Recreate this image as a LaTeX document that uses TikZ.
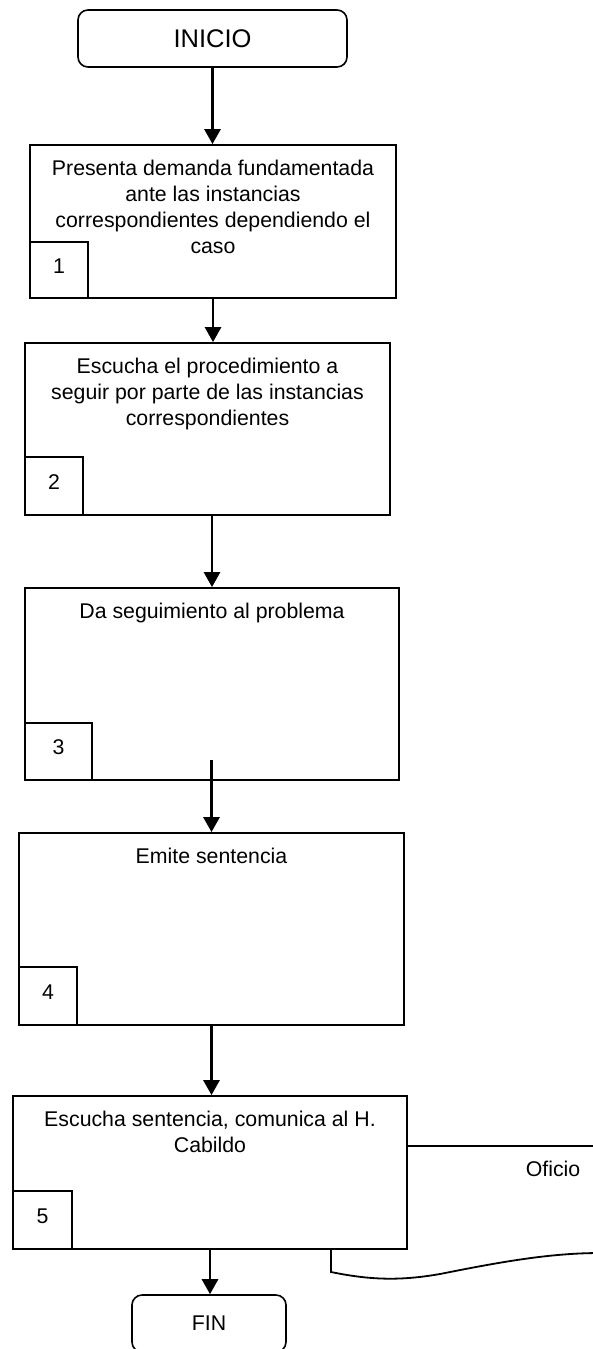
\documentclass[tikz,border=0pt]{standalone}
\usepackage{fontspec}
\setmainfont{Liberation Sans}
\usetikzlibrary{arrows.meta,calc}

\begin{document}
\begin{tikzpicture}[x=1pt, y=-1pt,
  every node/.style={font=\fontsize{21.3}{26}\selectfont},
  stepbox/.style={draw, line width=1.8pt, fill=white, inner sep=0pt},
  termbox/.style={draw, line width=1.6pt, rounded corners=10pt, fill=white, inner sep=0pt},
  numbox/.style={draw, line width=1.8pt, inner sep=0pt, anchor=south west, text depth=8pt},
  steptext/.style={anchor=north, align=center, inner sep=0pt, yshift=-16pt},
  docline/.style={line width=1.8pt},
  flow/.style={line width=2.8pt, -{Triangle[width=16pt,length=15pt]}}]

  \useasboundingbox (0,0) rectangle (592,1349);

  % --- inicio ---
  \node[termbox, minimum width=269pt, minimum height=57pt,
        font=\fontsize{25.5}{30}\selectfont] (inicio) at (212.5,38.5) {INICIO};

  % --- paso 1 ---
  \node[stepbox, minimum width=366pt, minimum height=153pt] (b1) at (213,221.5) {};
  \node[steptext] (t1) at (b1.north) {Presenta demanda fundamentada\\ante las instancias\\correspondientes dependiendo el\\caso};
  \node[numbox, minimum width=58pt, minimum height=56pt] (n1) at (b1.south west) {1};

  % --- paso 2 ---
  \node[stepbox, minimum width=365pt, minimum height=172pt] (b2) at (207.5,429) {};
  \node[steptext] (t2) at (b2.north) {Escucha el procedimiento a\\seguir por parte de las instancias\\correspondientes};
  \node[numbox, minimum width=58pt, minimum height=58pt] (n2) at (b2.south west) {2};

  % --- paso 3 ---
  \node[stepbox, minimum width=374pt, minimum height=192pt] (b3) at (212,684) {};
  \node[steptext] (t3) at (b3.north) {Da seguimiento al problema};
  \node[numbox, minimum width=67pt, minimum height=57pt] (n3) at (b3.south west) {3};

  % --- paso 4 ---
  \node[stepbox, minimum width=385pt, minimum height=192pt] (b4) at (211.5,929) {};
  \node[steptext] (t4) at (b4.north) {Emite sentencia};
  \node[numbox, minimum width=58pt, minimum height=58pt] (n4) at (b4.south west) {4};

  % --- documento (detras del paso 5) ---
  \draw[docline] (600,1146) -- (331,1146) -- (331,1272)
    .. controls (370,1280) and (400,1281) .. (440,1274)
    .. controls (500,1262) and (550,1253) .. (600,1253);
  \node (oficio) at (553,1169) {Oficio};

  % --- paso 5 ---
  \node[stepbox, minimum width=394pt, minimum height=153pt] (b5) at (210,1172.5) {};
  \node[steptext] (t5) at (b5.north) {Escucha sentencia, comunica al H.\\Cabildo};
  \node[numbox, minimum width=59pt, minimum height=58pt] (n5) at (b5.south west) {5};

  % --- fin ---
  \node[termbox, minimum width=154pt, minimum height=57pt] (fin) at (209,1323.5) {FIN};

  % --- flechas ---
  \draw[flow] (inicio.south) -- (inicio.south |- b1.north);
  \draw[flow] (b1.south) -- (b1.south |- b2.north);
  \draw[flow] (b3.north |- b2.south) -- (b3.north);
  \draw[flow] ($(b4.north |- b3.south)+(0,-21)$) -- (b4.north);
  \draw[flow] (b4.south) -- (b4.south |- b5.north);
  \draw[flow] (b5.south) -- (b5.south |- fin.north);

\end{tikzpicture}
\end{document}
